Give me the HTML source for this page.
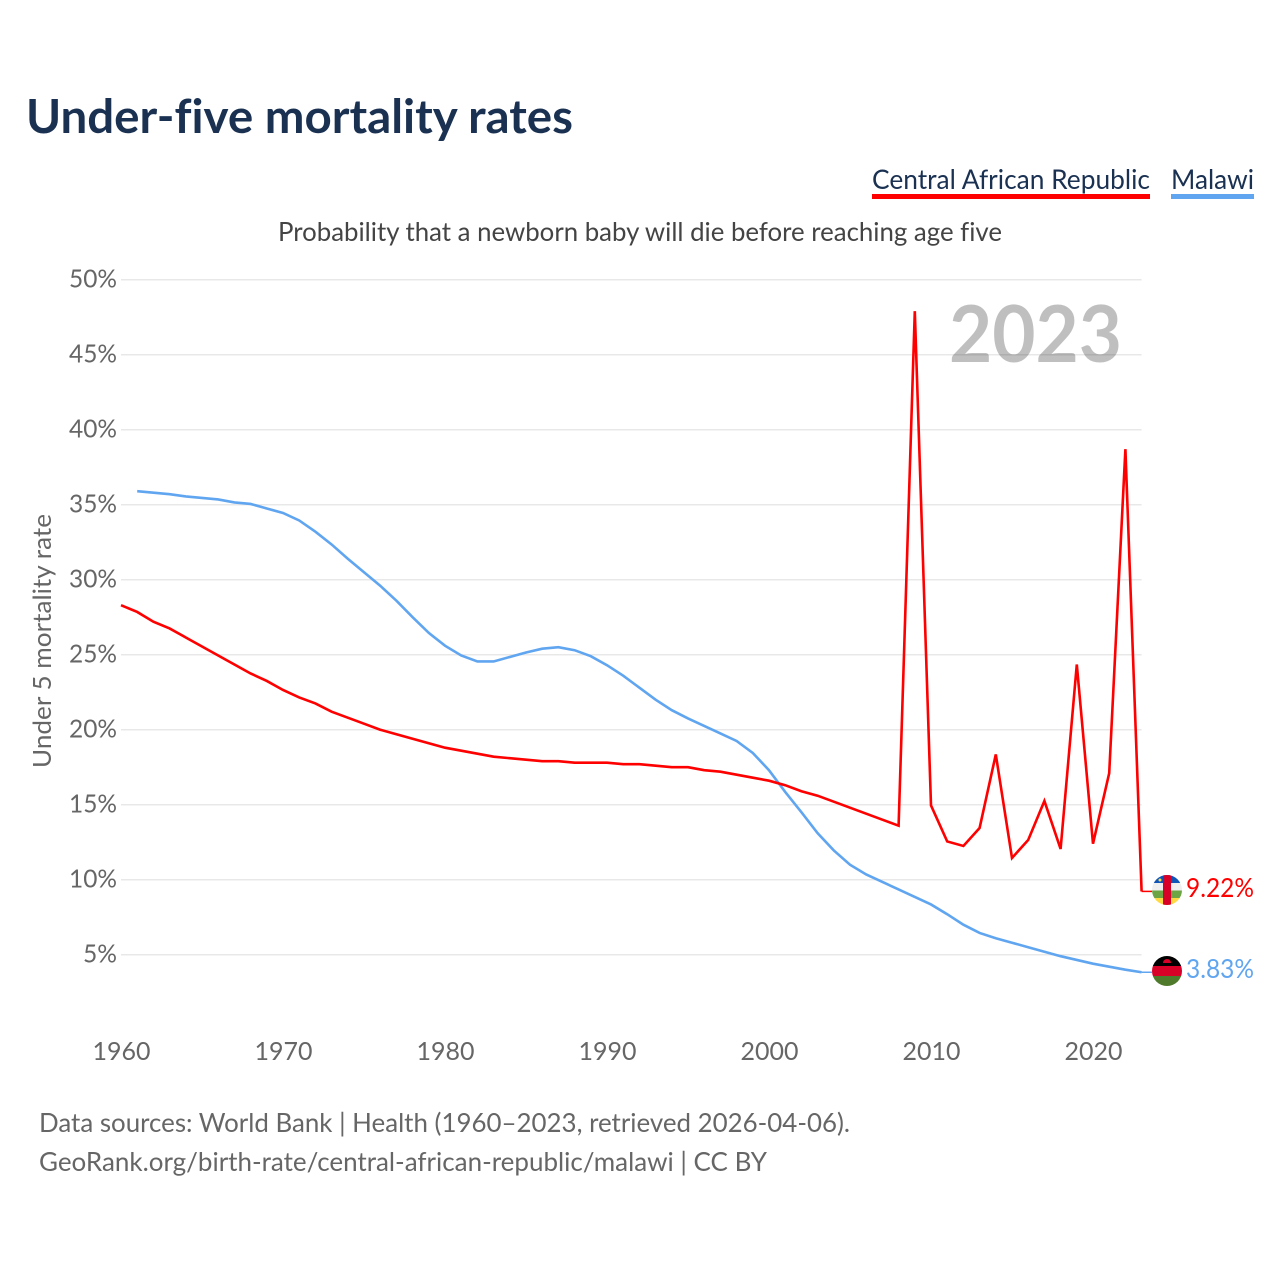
<!DOCTYPE html>
<html lang="en">
<head>
<meta charset="utf-8">
<title>Under-five mortality rates</title>
<style>
html,body{margin:0;padding:0;background:#fff;}
svg{display:block;}
text{font-family:"Lato","Carlito","Liberation Sans",sans-serif;font-variant-ligatures:none;font-feature-settings:"liga" 0,"clig" 0;}
</style>
</head>
<body>
<svg id="chart" xmlns="http://www.w3.org/2000/svg" width="1280" height="1280" viewBox="0 0 1280 1280">
  <defs>
    <clipPath id="clip-car"><circle cx="1167" cy="890" r="15"/></clipPath>
    <clipPath id="clip-mw"><circle cx="1167" cy="971" r="15"/></clipPath>
  </defs>
  <rect width="1280" height="1280" fill="#ffffff"/>
  <text x="26" y="133" font-size="47" font-weight="700" fill="#1a3152" textLength="547" lengthAdjust="spacingAndGlyphs">Under-five mortality rates</text>

  <g>
    <text x="872" y="189" font-size="27" fill="#1a3152" textLength="278" lengthAdjust="spacingAndGlyphs">Central African Republic</text>
    <rect x="872" y="194" width="278" height="5" fill="#ff0000"/>
  </g>
  <g>
    <text x="1171" y="189" font-size="27" fill="#1a3152" textLength="83" lengthAdjust="spacingAndGlyphs">Malawi</text>
    <rect x="1171" y="194" width="83" height="5" fill="#60a5f0"/>
  </g>

  <text x="278" y="241" font-size="26" fill="#444444" textLength="724" lengthAdjust="spacingAndGlyphs">Probability that a newborn baby will die before reaching age five</text>

  <g id="grid"></g>
  <g id="yticks"></g>
  <g id="xticks"></g>

  <text transform="translate(51,641) rotate(-90)" text-anchor="middle" font-size="25" fill="#666666" textLength="254" lengthAdjust="spacingAndGlyphs">Under 5 mortality rate</text>

  <text x="949" y="362" font-size="79" font-weight="700" fill="#000000" fill-opacity="0.25" textLength="173" lengthAdjust="spacingAndGlyphs">2023</text>

  <g id="series"></g>

  <g clip-path="url(#clip-car)">
    <rect x="1152" y="875" width="30" height="8" fill="#0f55b8"/>
    <rect x="1152" y="883" width="30" height="7.5" fill="#eeeeee"/>
    <rect x="1152" y="890.5" width="30" height="7.5" fill="#6da544"/>
    <rect x="1152" y="898" width="30" height="7" fill="#ffda44"/>
    <rect x="1163" y="875" width="8" height="30" fill="#d80027"/>
    <circle cx="1160" cy="880" r="1.5" fill="#ffda44"/>
  </g>
  <g clip-path="url(#clip-mw)">
    <rect x="1152" y="956" width="30" height="10" fill="#000000"/>
    <rect x="1152" y="966" width="30" height="10" fill="#d80027"/>
    <rect x="1152" y="976" width="30" height="10" fill="#4f7a2c"/>
    <path d="M1163 966a4 4 0 0 1 8 0z" fill="#d80027" transform="translate(0,-3)"/>
  </g>

  <text id="value-car" x="1186" y="897" font-size="26" fill="#ff0000" textLength="68" lengthAdjust="spacingAndGlyphs">9.22%</text>
  <text id="value-mw" x="1186" y="978" font-size="26" fill="#60a5f0" textLength="68" lengthAdjust="spacingAndGlyphs">3.83%</text>

  <text x="39" y="1132" font-size="26" fill="#666666" textLength="811" lengthAdjust="spacingAndGlyphs">Data sources: World Bank | Health (1960–2023, retrieved 2026-04-06).</text>
  <text x="39" y="1171" font-size="26" fill="#666666" textLength="728" lengthAdjust="spacingAndGlyphs">GeoRank.org/birth-rate/central-african-republic/malawi | CC BY</text>
</svg>
<script>
const yearTicks = [1960, 1970, 1980, 1990, 2000, 2010, 2020];
const percentTicks = [5, 10, 15, 20, 25, 30, 35, 40, 45, 50];
const carStartYear = 1960;
const malawiStartYear = 1961;
const carValues = [28.3,27.85,27.2,26.75,26.15,25.55,24.95,24.35,23.75,23.25,22.65,22.15,21.75,21.2,20.8,20.4,20.0,19.7,19.4,19.1,18.8,18.6,18.4,18.2,18.1,18.0,17.9,17.9,17.8,17.8,17.8,17.7,17.7,17.6,17.5,17.5,17.3,17.2,17.0,16.8,16.6,16.3,15.9,15.6,15.2,14.8,14.4,14.0,13.6,47.9,14.95,12.55,12.25,13.45,18.35,11.45,12.65,15.25,12.05,24.35,12.4,17.1,38.7,9.22];
const malawiValues = [35.9,35.8,35.7,35.55,35.45,35.35,35.15,35.05,34.75,34.45,33.95,33.2,32.35,31.4,30.5,29.6,28.6,27.5,26.45,25.6,24.95,24.55,24.55,24.85,25.15,25.4,25.5,25.3,24.9,24.3,23.6,22.8,22.0,21.3,20.75,20.25,19.75,19.25,18.45,17.3,15.85,14.5,13.1,11.95,11.0,10.35,9.85,9.35,8.85,8.35,7.7,7.0,6.45,6.1,5.8,5.5,5.2,4.9,4.65,4.4,4.2,4.0,3.83];

const NS = 'http://www.w3.org/2000/svg';
function xScale(year){ return 121 + (year - 1960) * 16.2; }
function yScale(v){ return 1029.7 - v * 15; }

function make(tag, attrs, parent){
  const el = document.createElementNS(NS, tag);
  for (const k in attrs) el.setAttribute(k, attrs[k]);
  parent.appendChild(el);
  return el;
}

const grid = document.getElementById('grid');
const yticks = document.getElementById('yticks');
const xticks = document.getElementById('xticks');
const series = document.getElementById('series');

percentTicks.forEach(function(p){
  const y = yScale(p);
  const line = make('line', {x1:121, x2:1141.6, y1:y, y2:y, stroke:'#e8e8e8', 'stroke-width':1.5}, grid);
  
  
  const text = p + '%';
  const label = make('text', {x:117, y:y+8, 'text-anchor':'end', 'font-size':25, fill:'#666666', textLength:6 + 14 * text.length, lengthAdjust:'spacingAndGlyphs'}, yticks);
  
  
  label.textContent = text;
});

yearTicks.forEach(function(yr){
  const label = make('text', {x:xScale(yr) + 0.5, y:1060, 'text-anchor':'middle', 'font-size':25, fill:'#666666', textLength:58, lengthAdjust:'spacingAndGlyphs'}, xticks);
  
  
  label.textContent = yr;
});

function pointsFor(values, startYear){
  return values.map(function(v, i){
    return xScale(startYear + i).toFixed(2) + ',' + yScale(v).toFixed(2);
  });
}

const malawiLine = make('polyline', {points:pointsFor(malawiValues, malawiStartYear).join(' '), fill:'none', stroke:'#60a5f0', 'stroke-width':2.6, 'stroke-linejoin':'miter'}, series);



const carLine = make('polyline', {points:pointsFor(carValues, carStartYear).join(' '), fill:'none', stroke:'#ff0000', 'stroke-width':2.6, 'stroke-linejoin':'miter'}, series);



const carEnd = yScale(carValues[carValues.length - 1]);
const mwEnd = yScale(malawiValues[malawiValues.length - 1]);
const carConn = make('line', {x1:xScale(2023), x2:1152, y1:carEnd, y2:carEnd, stroke:'#ff0000', 'stroke-width':1.5}, series);


const mwConn = make('line', {x1:xScale(2023), x2:1152, y1:mwEnd, y2:mwEnd, stroke:'#60a5f0', 'stroke-width':1.5}, series);



document.getElementById('value-car').textContent = carValues[carValues.length - 1].toFixed(2) + '%';
document.getElementById('value-mw').textContent = malawiValues[malawiValues.length - 1].toFixed(2) + '%';
</script>
</body>
</html>
